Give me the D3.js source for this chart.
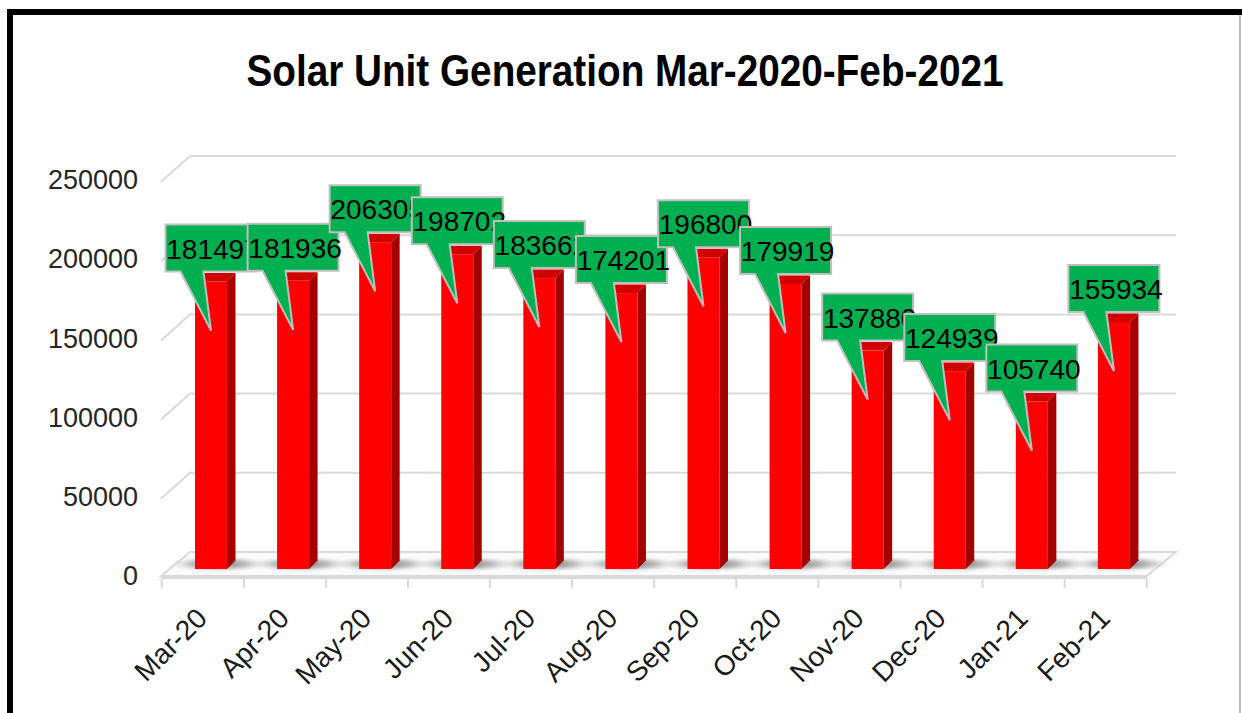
<!DOCTYPE html>
<html lang="en">
<head>
<meta charset="utf-8">
<title>Solar Unit Generation</title>
<style>
  body { margin: 0; background: #fff; }
  svg { display: block; }
</style>
</head>
<body>
<svg></svg>
<script src="https://cdn.jsdelivr.net/npm/d3@7/dist/d3.min.js"></script>
<script>

const months = ["Mar-20","Apr-20","May-20","Jun-20","Jul-20","Aug-20","Sep-20","Oct-20","Nov-20","Dec-20","Jan-21","Feb-21"]
const units = [181497,181936,206305,198702,183662,174201,196800,179919,137880,124939,105740,155934]
const yTicks = [0,50000,100000,150000,200000,250000]
const title = "Solar Unit Generation Mar-2020-Feb-2021"

const width = 1242, height = 713,
      svg = d3.select("svg").attr("width", width).attr("height", height),
      font = "'Liberation Sans Narrow', 'Arial Narrow', sans-serif"

// bars sit a little behind the front edge of the floor
const front = 9, back = -17,
      wallX0 = 161, wallX1 = 190, wallEnd = 1176

const x = d3.scaleBand().domain(months).range([161.7, 1146.7]),
      y = d3.scaleLinear().domain([0, 250000]).range([569, 173])

const data = months.map((m, i) => ({month: m, value: units[i]}))

// frame
svg.append("rect")
    .attr("x", 10).attr("y", 12).attr("width", 1245).attr("height", 720)
    .style("fill", "none").style("stroke", "#000").style("stroke-width", 6)
svg.append("line")
    .attr("x1", 1240).attr("x2", 1240).attr("y1", 15).attr("y2", height)
    .style("stroke", "#a6a6a6").style("stroke-width", 1.5)

// title
svg.append("text")
    .text(title)
    .attr("x", 625).attr("y", 86)
    .attr("text-anchor", "middle")
    .attr("textLength", 757).attr("lengthAdjust", "spacingAndGlyphs")
    .style("font-family", font).style("font-weight", 700)
    .style("font-size", "44px").style("fill", "#000")

// back wall + side wall gridlines
const grid = svg.append("g")
grid.selectAll(".back")
  .data(yTicks.filter(d => d > 0))
  .enter().append("line")
    .attr("x1", wallX1).attr("x2", wallEnd)
    .attr("y1", d => y(d) + back).attr("y2", d => y(d) + back)
    .style("stroke", "#d9d9d9").style("stroke-width", 2)
grid.selectAll(".side")
  .data(yTicks.filter(d => d > 0))
  .enter().append("line")
    .attr("x1", wallX0).attr("x2", wallX1)
    .attr("y1", d => y(d) + front).attr("y2", d => y(d) + back)
    .style("stroke", "#d9d9d9").style("stroke-width", 2)

// floor
const y0 = y(0)
svg.append("path")
    .attr("d", `M${wallX0},${y0 + front - 2} L${x.range()[1]},${y0 + front - 2} L${wallEnd},${y0 + back} L${wallX1},${y0 + back} Z`)
    .style("fill", "#fafafa").style("stroke", "#d9d9d9").style("stroke-width", 2)

// y labels
svg.selectAll(".ylab")
  .data(yTicks)
  .enter().append("text")
    .text(d => d)
    .attr("x", 138).attr("y", d => y(d) + front)
    .attr("text-anchor", "end")
    .attr("dominant-baseline", "middle")
    .style("font-family", font).style("font-size", "27px").style("fill", "#262626")

// category axis
const axisY = y0 + front
svg.append("line")
    .attr("x1", x.range()[0]).attr("x2", x.range()[1])
    .attr("y1", axisY).attr("y2", axisY)
    .style("stroke", "#d9d9d9").style("stroke-width", 2)
svg.selectAll(".tick")
  .data(months.concat(["end"]))
  .enter().append("line")
    .attr("x1", (d, i) => x.range()[0] + i * x.bandwidth())
    .attr("x2", (d, i) => x.range()[0] + i * x.bandwidth())
    .attr("y1", axisY).attr("y2", axisY + 10)
    .style("stroke", "#d9d9d9").style("stroke-width", 2)

svg.selectAll(".xlab")
  .data(months)
  .enter().append("text")
    .text(d => d)
    .attr("text-anchor", "end")
    .attr("transform", d => `translate(${x(d) + x.bandwidth() / 2 + 6},620) rotate(-45)`)
    .style("font-family", font).style("font-size", "28px").style("fill", "#1a1a1a")

// shadows
const defs = svg.append("defs")
const shade = defs.append("radialGradient").attr("id", "shade")
shade.append("stop").attr("offset", "0%").attr("stop-color", "#6e6e6e").attr("stop-opacity", 1)
shade.append("stop").attr("offset", "55%").attr("stop-color", "#a6a6a6").attr("stop-opacity", 0.7)
shade.append("stop").attr("offset", "100%").attr("stop-color", "#d9d9d9").attr("stop-opacity", 0)

const barOff = 33.3, barW = 32, depth = 8.5

svg.selectAll(".shadow")
  .data(data)
  .enter().append("ellipse")
    .attr("cx", d => x(d.month) + barOff + barW / 2 + 8)
    .attr("cy", y0 - 5)
    .attr("rx", 50).attr("ry", 8)
    .style("fill", "url(#shade)")

// bars
const bars = svg.selectAll(".bar")
  .data(data)
  .enter().append("g")

bars.append("path")
    .attr("d", d => {
      const x1 = x(d.month) + barOff + barW, t = y(d.value)
      return `M${x1},${t} L${x1 + depth},${t - depth} L${x1 + depth},${y0 - depth} L${x1},${y0} Z`
    })
    .style("fill", "#a50000")
bars.append("rect")
    .attr("x", d => x(d.month) + barOff)
    .attr("y", d => y(d.value))
    .attr("width", barW)
    .attr("height", d => y0 - y(d.value))
    .style("fill", "#ff0000")
bars.append("path")
    .attr("d", d => {
      const x0 = x(d.month) + barOff, t = y(d.value)
      return `M${x0},${t} L${x0 + depth},${t - depth} L${x0 + barW + depth},${t - depth} L${x0 + barW},${t} Z`
    })
    .style("fill", "#d00000")

// callouts, drawn in order so each one covers the previous
const boxW = 91, boxH = 47
data.forEach(d => {
  const cx = x(d.month) + barOff + barW / 2,
        t = y(d.value),
        L = cx - boxW / 2, B = t - 10, T = B - boxH, R = L + boxW
  const g = svg.append("g")
  g.append("path")
      .attr("d", `M${L},${T} H${R} V${B} H${L + 38} L${cx},${t + 49} L${L + 15},${B} H${L} Z`)
      .style("fill", "#00b050").style("stroke", "#bfbfbf").style("stroke-width", 2)
      .style("stroke-linejoin", "miter")
  g.append("text")
      .text(d.value)
      .attr("x", cx + 2).attr("y", B - 13)
      .attr("text-anchor", "middle")
      .style("font-family", font).style("font-size", "28px").style("fill", "#000")
})

</script>
</body>
</html>
